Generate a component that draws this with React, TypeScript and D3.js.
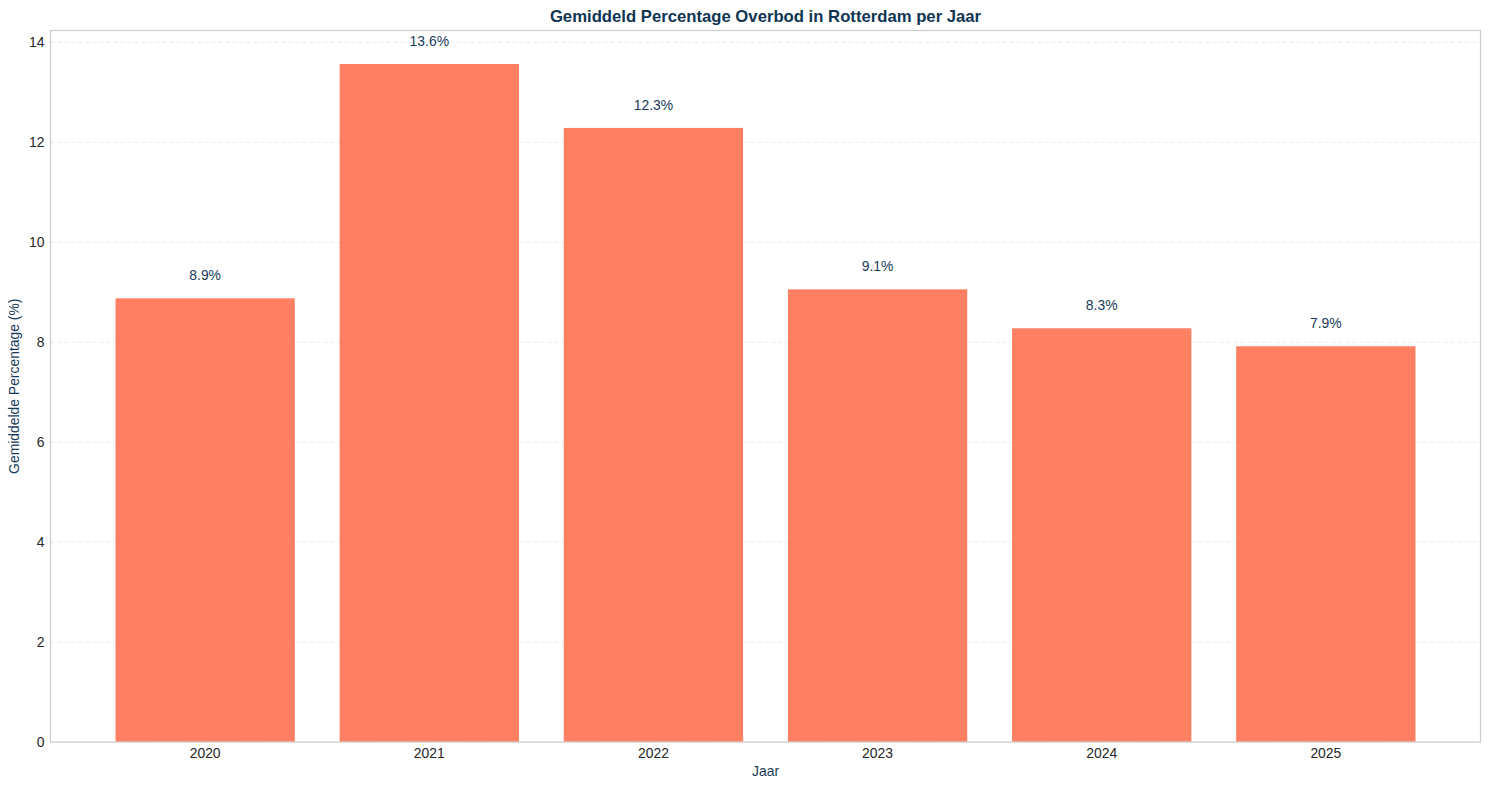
import React, { useEffect, useRef } from 'react';
import * as d3 from 'd3';

// Data
const years = ['2020', '2021', '2022', '2023', '2024', '2025'];
const overbidPct = [8.88, 13.57, 12.29, 9.06, 8.28, 7.92];
const yTicks = [0, 2, 4, 6, 8, 10, 12, 14];

const W = 1489;
const H = 790;
const margin = { top: 30.5, right: 8.5, bottom: 48, left: 50.5 };
const FONT = '"Liberation Sans", Arial, sans-serif';
const NAVY = '#173a5a';
const FS = '13.9px';

const App: React.FC = () => {
  const ref = useRef<SVGSVGElement>(null);

  useEffect(() => {
    if (!ref.current) return;
    const svg = d3.select(ref.current);
    svg.selectAll('*').remove();

    const innerW = W - margin.left - margin.right;
    const innerH = H - margin.top - margin.bottom;

    // matplotlib-style: bars width 0.8 with 5% margins
    const x = d3.scaleLinear().domain([-0.69, 5.69]).range([0, innerW]);
    const y = d3.scaleLinear().domain([0, 14.24]).range([innerH, 0]);

    const g = svg.append('g').attr('transform', `translate(${margin.left},${margin.top})`);

    // Grid
    g.append('g')
      .selectAll('line')
      .data(yTicks)
      .join('line')
      .attr('x1', 0)
      .attr('x2', innerW)
      .attr('y1', d => y(d))
      .attr('y2', d => y(d))
      .attr('stroke', '#e6e6e6')
      .attr('stroke-width', 0.8)
      .attr('stroke-dasharray', '4,3');

    // Bars
    g.selectAll('.bar')
      .data(overbidPct)
      .join('rect')
      .attr('class', 'bar')
      .attr('x', (_, i) => x(i - 0.4))
      .attr('width', x(0.4) - x(-0.4))
      .attr('y', d => y(d))
      .attr('height', d => innerH - y(d))
      .attr('fill', '#ff7f62');

    // Value labels
    g.selectAll('.lbl')
      .data(overbidPct)
      .join('text')
      .attr('class', 'lbl')
      .attr('x', (_, i) => x(i))
      .attr('y', d => y(d) - 18)
      .attr('text-anchor', 'middle')
      .style('font-family', FONT)
      .style('font-size', FS)
      .style('fill', NAVY)
      .text(d => `${d.toFixed(1)}%`);

    // Frame
    g.append('rect')
      .attr('width', innerW)
      .attr('height', innerH)
      .attr('fill', 'none')
      .attr('stroke', '#cccccc')
      .attr('stroke-width', 1.2);

    // Y ticks
    g.append('g')
      .selectAll('text')
      .data(yTicks)
      .join('text')
      .attr('x', -6)
      .attr('y', d => y(d))
      .attr('dy', '0.35em')
      .attr('text-anchor', 'end')
      .style('font-family', FONT)
      .style('font-size', FS)
      .style('fill', '#262626')
      .text(d => d);

    // X ticks
    g.append('g')
      .selectAll('text')
      .data(years)
      .join('text')
      .attr('x', (_, i) => x(i))
      .attr('y', innerH + 16)
      .attr('text-anchor', 'middle')
      .style('font-family', FONT)
      .style('font-size', FS)
      .style('fill', '#262626')
      .text(d => d);

    // Axis titles
    svg.append('text')
      .attr('x', margin.left + innerW / 2)
      .attr('y', H - 14)
      .attr('text-anchor', 'middle')
      .style('font-family', FONT)
      .style('font-size', FS)
      .style('fill', NAVY)
      .text('Jaar');

    svg.append('text')
      .attr('transform', `translate(19,${margin.top + innerH / 2}) rotate(-90)`)
      .attr('text-anchor', 'middle')
      .style('font-family', FONT)
      .style('font-size', FS)
      .style('fill', NAVY)
      .text('Gemiddelde Percentage (%)');

    svg.append('text')
      .attr('x', margin.left + innerW / 2)
      .attr('y', 22)
      .attr('text-anchor', 'middle')
      .style('font-family', FONT)
      .style('font-size', '16.7px')
      .style('font-weight', 'bold')
      .style('fill', '#0f3553')
      .text('Gemiddeld Percentage Overbod in Rotterdam per Jaar');
  }, []);

  return (
    <svg
      ref={ref}
      width={W}
      height={H}
      style={{ display: 'block', position: 'absolute', left: 0, top: 0, background: '#fff' }}
    />
  );
};

export default App;
